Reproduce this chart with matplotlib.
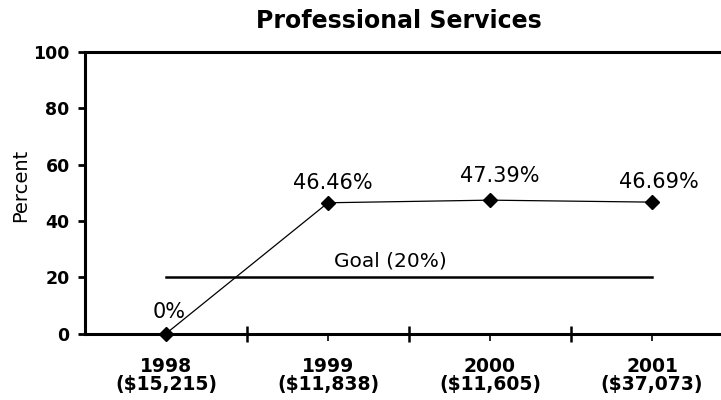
import matplotlib
matplotlib.use("Agg")
import matplotlib.pyplot as plt
from matplotlib.ticker import FixedLocator

plt.rcParams['font.family'] = ['DejaVu Sans']

years = ["1998", "1999", "2000", "2001"]
spending = ["($15,215)", "($11,838)", "($11,605)", "($37,073)"]
percent = [0.0, 46.46, 47.39, 46.69]
point_labels = ["0%", "46.46%", "47.39%", "46.69%"]
goal = 20
goal_label = "Goal (20%)"
y_ticks = [0, 20, 40, 60, 80, 100]

fig = plt.figure(figsize=(7.21, 4.0), dpi=100)
ax = fig.add_axes([0.1179, 0.166, 0.8821, 0.704])

x = list(range(1, len(years) + 1))

# goal line across the whole period
ax.plot([x[0], x[-1]], [goal, goal], color="black", lw=1.8, zorder=2)
ax.text(2.383, goal + 3.9, goal_label, ha="center", va="baseline", fontsize=14.5)

# share of spending
ax.plot(x, percent, color="black", lw=0.9, marker="D", markersize=7.5,
        markerfacecolor="black", clip_on=False, zorder=3)

offsets = [(0.02, 5.7), (0.03, 5.0), (0.06, 6.4), (0.04, 5.0)]
for xi, yi, lab, (dx, dy) in zip(x, percent, point_labels, offsets):
    ax.text(xi + dx, yi + dy, lab, ha="center", va="baseline", fontsize=15)

ax.set_xlim(0.5, 4.426)
ax.set_ylim(0, 100)

ax.set_yticks(y_ticks)
ax.set_yticklabels([str(t) for t in y_ticks], fontsize=12.5, fontweight="bold")
ax.set_xticks(x)
ax.set_xticklabels([f"{yr}\n{sp}" for yr, sp in zip(years, spending)],
                   fontsize=13.5, fontweight="bold", linespacing=0.95)
ax.xaxis.set_minor_locator(FixedLocator([1.5, 2.5, 3.5]))

ax.tick_params(axis="y", direction="out", length=5, width=2, pad=6)
ax.tick_params(axis="x", which="major", direction="out", length=5, width=1.2, pad=12)
ax.tick_params(axis="x", which="minor", direction="inout", length=11, width=1.8)

ax.spines["right"].set_visible(False)
for s in ("left", "bottom", "top"):
    ax.spines[s].set_linewidth(2.2)

ax.set_ylabel("Percent", fontsize=14, va="center")
ax.yaxis.set_label_coords(-0.102, 0.527)
fig.text(0.553, 0.948, "Professional Services", ha="center", va="center",
         fontsize=17, fontweight="bold")

fig.savefig("out.png", dpi=100)
